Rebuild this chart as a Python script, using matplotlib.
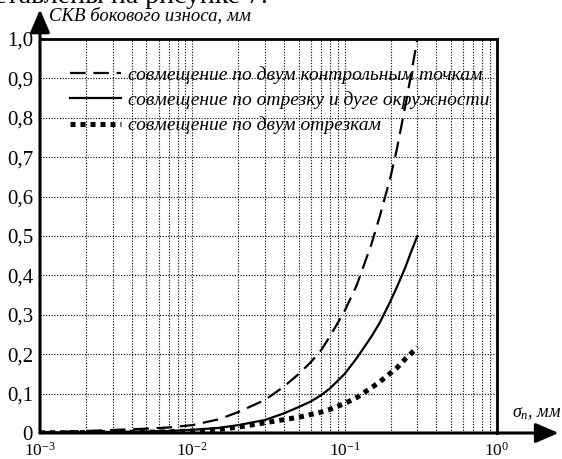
import math

import matplotlib
matplotlib.use("Agg")
from matplotlib import pyplot as plt
from matplotlib.ticker import FixedLocator, FuncFormatter, NullFormatter

plt.rcParams["font.family"] = ["Liberation Serif", "DejaVu Serif"]
plt.rcParams["mathtext.fontset"] = "custom"
plt.rcParams["mathtext.rm"] = "Liberation Serif"
plt.rcParams["mathtext.it"] = "Liberation Serif:italic"

# СКО погрешности, мм
sigma = [0.001, 0.002, 0.005, 0.007, 0.01, 0.015, 0.02, 0.03, 0.04, 0.05, 0.06, 0.07, 0.08,
         0.1, 0.12, 0.15, 0.17, 0.2, 0.22, 0.25, 0.27, 0.3]
# СКВ бокового износа, мм
two_points = [0.002, 0.005, 0.011, 0.014, 0.02, 0.035, 0.053, 0.084, 0.118, 0.15, 0.18, 0.21, 0.245,
              0.31, 0.375, 0.48, 0.55, 0.65, 0.72, 0.83, 0.9, 1.0]
segment_arc = [0.001, 0.002, 0.004, 0.005, 0.008, 0.013, 0.02, 0.033, 0.05, 0.066, 0.08, 0.096, 0.113,
               0.15, 0.19, 0.245, 0.28, 0.335, 0.37, 0.42, 0.455, 0.5]
two_segments = [0.0005, 0.001, 0.002, 0.003, 0.005, 0.009, 0.015, 0.026, 0.034, 0.04, 0.047, 0.053, 0.06,
                0.075, 0.09, 0.115, 0.13, 0.152, 0.165, 0.188, 0.2, 0.218]

labels = ["совмещение по двум контрольным точкам",
          "совмещение по отрезку и дуге окружности",
          "совмещение по двум отрезкам"]
y_ticks = [0, 0.1, 0.2, 0.3, 0.4, 0.5, 0.6, 0.7, 0.8, 0.9, 1.0]
x_ticks = [1e-3, 1e-2, 1e-1, 1e0]


def y_label(value, pos):
    if value == 0:
        return "0"
    return f"{value:.1f}".replace(".", ",")


def x_label(value, pos):
    exp = round(math.log10(value))
    return rf"$\mathdefault{{10^{{{exp}}}}}$"


fig = plt.figure(figsize=(5.62, 4.59), dpi=100)
W, H = 562, 459
ax = fig.add_axes([40 / W, 1 - 433 / H, 457 / W, 394 / H])

ax.plot(sigma, two_points, color="black", lw=1.6, dashes=(7, 3.5), label=labels[0])
ax.plot(sigma, segment_arc, color="black", lw=1.6, label=labels[1])
ax.plot(sigma, two_segments, color="black", lw=3.6, dashes=(1, 1),
        dash_capstyle="butt", label=labels[2])

ax.set_xscale("log")
ax.set_xlim(1e-3, 1)
ax.set_ylim(0, 1)
ax.xaxis.set_major_locator(FixedLocator(x_ticks))
ax.xaxis.set_major_formatter(FuncFormatter(x_label))
ax.xaxis.set_minor_formatter(NullFormatter())
ax.yaxis.set_major_locator(FixedLocator(y_ticks))
ax.yaxis.set_major_formatter(FuncFormatter(y_label))
ax.tick_params(which="both", length=0)
ax.tick_params(axis="x", pad=6.5, labelsize=12.5)
ax.tick_params(axis="y", pad=5, labelsize=15)

ax.grid(True, which="both", axis="x", color="black", lw=0.8, ls=(0, (1, 1.5)))
ax.grid(True, which="major", axis="y", color="black", lw=0.8, ls=(0, (1, 1.5)))
ax.set_axisbelow(True)

for side in ["top", "right"]:
    ax.spines[side].set_linewidth(2)
ax.spines["left"].set_visible(False)
ax.spines["bottom"].set_visible(False)

arrow = dict(arrowstyle="-|>,head_length=0.7,head_width=0.3", color="black", lw=2.2,
             shrinkA=0, shrinkB=0, mutation_scale=20)
ax.annotate("", xy=(0, 1.075), xytext=(0, 0), xycoords="axes fraction",
            textcoords="axes fraction", arrowprops=arrow, annotation_clip=False)
ax.annotate("", xy=(1.135, 0), xytext=(0, 0), xycoords="axes fraction",
            textcoords="axes fraction", arrowprops=arrow, annotation_clip=False)

fig.text(49 / W, 1 - 16 / H, "СКВ бокового износа, мм", style="italic",
         fontsize=13.5, va="center", ha="left")
fig.text(512 / W, 1 - 413 / H, r"$\sigma_{п}$, мм", style="italic",
         fontsize=13, va="center", ha="left")
fig.text(268 / W, 1 - 3 / H, "представлены на рисунке 7.", fontsize=20,
         va="baseline", ha="right")

ax.legend(loc="upper left", bbox_to_anchor=(30 / 457, 1 - 27 / 394), frameon=False,
          prop={"style": "italic", "size": 14},
          handlelength=2.6, handletextpad=0.4, labelspacing=0.38,
          borderpad=0, borderaxespad=0)

fig.savefig("out.png", dpi=100)
